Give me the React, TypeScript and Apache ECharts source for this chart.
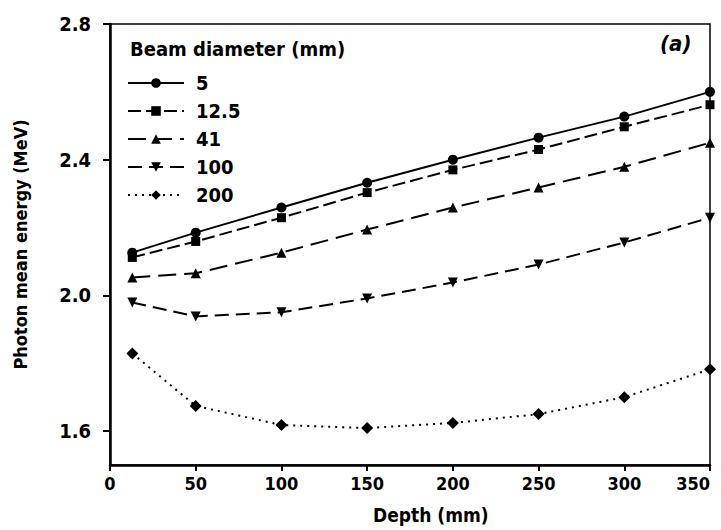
import React, { useEffect, useRef } from "react";
import * as echarts from "echarts";

const depths = [13, 50, 100, 150, 200, 250, 300, 350];
const seriesNames = ["5", "12.5", "41", "100", "200"];
const d5 = [2.126, 2.185, 2.259, 2.332, 2.4, 2.465, 2.527, 2.6];
const d12 = [2.112, 2.159, 2.229, 2.303, 2.37, 2.43, 2.497, 2.562];
const d41 = [2.053, 2.065, 2.126, 2.194, 2.259, 2.318, 2.379, 2.45];
const d100 = [1.979, 1.938, 1.95, 1.991, 2.038, 2.091, 2.156, 2.229];
const d200 = [1.829, 1.674, 1.618, 1.609, 1.624, 1.65, 1.7, 1.782];
const yTicks = [1.6, 2.0, 2.4, 2.8];
const xTicks = [0, 50, 100, 150, 200, 250, 300, 350];

const FONT = "'DejaVu Sans Condensed', 'Liberation Sans Narrow', 'DejaVu Sans', sans-serif";

export default function App() {
  const ref = useRef<HTMLDivElement>(null);
  useEffect(() => {
    document.body.style.margin = "0";
    if (!ref.current) return;
    const chart = echarts.init(ref.current, null, { renderer: "svg" });
    const values = [d5, d12, d41, d100, d200];
    const symbols = [
      "circle",
      "rect",
      "triangle",
      "path://M0,0 L10,0 L5,9 Z",
      "diamond",
    ];
    const sizes = [10, 9, 10, 10, 12];
    const lineTypes: any[] = ["solid", [13, 5], [18, 8], [14, 7], [2, 5]];
    const series = values.map((vals, i) => ({
      name: seriesNames[i],
      type: "line",
      data: vals.map((v, j) => [depths[j], v]),
      symbol: symbols[i],
      symbolSize: sizes[i],
      showSymbol: true,
      itemStyle: { color: "#000" },
      lineStyle: { color: "#000", width: 2, type: lineTypes[i] },
    }));
    chart.setOption({
      animation: false,
      backgroundColor: "#fff",
      textStyle: { fontFamily: FONT },
      grid: {
        left: 110,
        right: 11,
        top: 24,
        bottom: 65,
        show: true,
        borderColor: "#000",
        borderWidth: 1.5,
      },
      legend: {
        orient: "vertical",
        left: 122,
        top: 68,
        itemWidth: 56,
        itemHeight: 12,
        itemGap: 8,
        data: seriesNames,
        textStyle: {
          fontFamily: FONT,
          fontSize: 20,
          fontWeight: "bold",
          color: "#000",
          lineHeight: 20,
          padding: [0, 0, 0, 7],
        },
      },
      xAxis: {
        type: "value",
        min: 0,
        max: 350,
        interval: 50,
        splitLine: { show: false },
        axisLine: { lineStyle: { color: "#000", width: 2.5 } },
        axisTick: { show: true, length: 6, lineStyle: { color: "#000", width: 2 } },
        axisLabel: {
          color: "#000",
          fontFamily: FONT,
          fontSize: 18,
          fontWeight: "bold",
          margin: 9,
          customValues: xTicks,
          alignMaxLabel: "right",
        },
      },
      yAxis: {
        type: "value",
        min: 1.5,
        max: 2.8,
        splitLine: { show: false },
        name: "Photon mean energy (MeV)",
        nameLocation: "middle",
        nameGap: 81,
        nameTextStyle: {
          color: "#000",
          fontFamily: FONT,
          fontSize: 18,
          fontWeight: "bold",
        },
        axisLine: { lineStyle: { color: "#000", width: 2.5 } },
        axisTick: {
          show: true,
          length: 7,
          lineStyle: { color: "#000", width: 2 },
          customValues: yTicks,
        },
        axisLabel: {
          color: "#000",
          fontFamily: FONT,
          fontSize: 20,
          fontWeight: "bold",
          margin: 19,
          customValues: yTicks,
          formatter: (v: number) => v.toFixed(1),
        },
      },
      graphic: [
        {
          type: "text",
          left: 130,
          top: 39,
          style: {
            text: "Beam diameter (mm)",
            font: `bold 20px ${FONT}`,
            fill: "#000",
          },
        },
        {
          type: "text",
          left: 660,
          top: 32,
          style: {
            text: "(a)",
            font: `italic bold 22px ${FONT}`,
            fill: "#000",
          },
        },
        {
          type: "text",
          left: 373,
          top: 505,
          style: {
            text: "Depth (mm)",
            font: `bold 19px ${FONT}`,
            fill: "#000",
          },
        },
      ],
      series,
    });
    return () => chart.dispose();
  }, []);
  return <div ref={ref} style={{ width: 721, height: 530 }} />;
}
